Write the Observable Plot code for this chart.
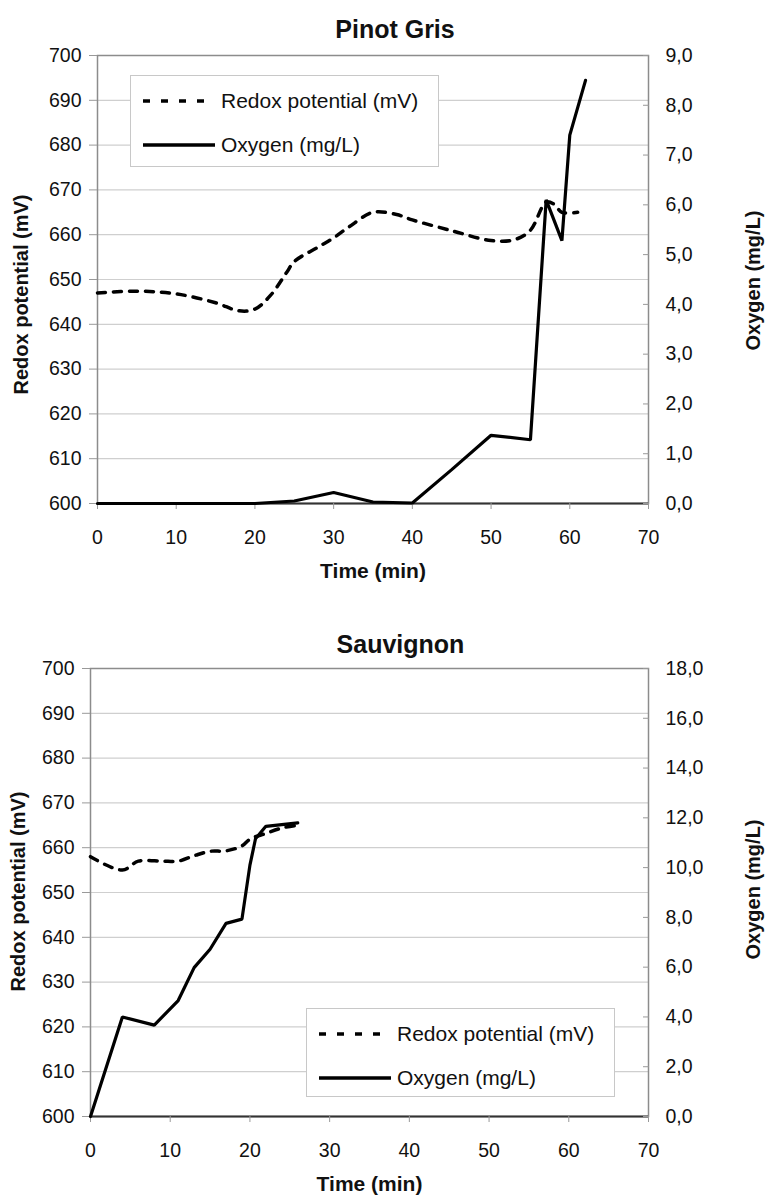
<!DOCTYPE html>
<html><head><meta charset="utf-8">
<script src="https://cdn.jsdelivr.net/npm/d3@7"></script>
<script src="https://cdn.jsdelivr.net/npm/@observablehq/plot@0.6"></script>
<style>
body{margin:0;background:#fff;font-family:"Liberation Sans",Arial,sans-serif;}
.panel{position:relative;width:781px;overflow:hidden;}
.panel svg{position:absolute;left:0;top:0;}
.legend{position:absolute;background:#fff;border:1px solid #c8c8c8;box-sizing:border-box;font-size:21px;color:#111;}
.legend .row{position:absolute;left:0;display:flex;align-items:center;height:30px;}
.legend svg{position:static;margin-left:12px;margin-right:6px;}
</style></head><body>
<div id="chart"></div>
<script>
// ---- data ----
const timeTicks = [0, 10, 20, 30, 40, 50, 60, 70];
const redoxTicks = [600, 610, 620, 630, 640, 650, 660, 670, 680, 690, 700];
const pgOxyTicks = [0, 1, 2, 3, 4, 5, 6, 7, 8, 9];
const svOxyTicks = [0, 2, 4, 6, 8, 10, 12, 14, 16, 18];

// Pinot Gris
const pgRedoxTime = [0, 5, 10, 15, 18, 20, 22, 24, 25, 28, 30, 32, 35, 38, 40, 45, 50, 53, 55, 57, 58, 59, 61];
const pgRedox     = [647, 647.4, 646.8, 644.8, 643, 643.4, 646.5, 651.5, 654, 657.2, 659.3, 661.8, 665, 664.5, 663.3, 660.9, 658.7, 658.9, 661, 667.3, 666.8, 665, 665];
const pgOxyTime = [0, 5, 10, 15, 20, 25, 30, 35, 40, 45, 50, 55, 57, 59, 60, 62];
const pgOxy     = [0, 0, 0, 0, 0, 0.05, 0.22, 0.03, 0.01, 0.68, 1.37, 1.28, 6.1, 5.28, 7.4, 8.5];

// Sauvignon
const svRedoxTime = [0, 4, 6, 9, 11, 13, 15, 17, 19, 20, 22, 24, 26];
const svRedox     = [658, 655, 657, 657, 657, 658.2, 659.2, 659.3, 660.4, 661.9, 663.2, 664.4, 665];
const svOxyTime = [0, 4, 8, 11, 13, 15, 17, 19, 20, 20.7, 22, 26];
const svOxy     = [0, 4.0, 3.67, 4.66, 5.98, 6.72, 7.76, 7.93, 10.1, 11.16, 11.66, 11.8];

const legendLabels = ["Redox potential (mV)", "Oxygen (mg/L)"];
const FONT = '"Liberation Sans", Arial, sans-serif';
const comma = d => d.toFixed(1).replace(".", ",");

function makePanel(cfg) {
  const panel = document.createElement("div");
  panel.className = "panel";
  panel.style.height = cfg.height + "px";
  const common = {
    width: 781, height: cfg.height,
    marginLeft: cfg.ml, marginRight: 133, marginTop: 55, marginBottom: cfg.height - 55 - 448,
    style: {fontFamily: FONT, fontSize: "19.5px", color: "#111", background: "transparent", overflow: "visible"}
  };
  const redoxData = cfg.redoxT.map((t, i) => ({t, v: cfg.redoxV[i]}));
  const oxyData = cfg.oxyT.map((t, i) => ({t, v: cfg.oxyV[i]}));

  const p1 = Plot.plot({
    ...common,
    x: {domain: [0, 70], axis: null},
    y: {domain: [600, 700], axis: null},
    marks: [
      Plot.gridY(redoxTicks, {stroke: "#cfcfcf", strokeOpacity: 1, strokeWidth: 1.2}),
      Plot.frame({stroke: "#8c8c8c", strokeWidth: 1.5}),
      Plot.ruleY([600], {stroke: "#333", strokeWidth: 2}),
      Plot.axisY({ticks: redoxTicks, anchor: "left", tickSize: 8, text: null, label: null, stroke: "#999"}),
      Plot.axisY({ticks: redoxTicks, anchor: "left", tickSize: 0, tickPadding: 16, label: null, fill: "#111", tickFormat: d => String(d)}),
      Plot.axisX({ticks: timeTicks, anchor: "bottom", tickSize: 6, text: null, label: null, stroke: "#999"}),
      Plot.axisX({ticks: timeTicks, anchor: "bottom", tickSize: 0, tickPadding: 27, label: null, fill: "#111", tickFormat: d => String(d)}),
      Plot.line(redoxData, {x: "t", y: "v", curve: "catmull-rom", stroke: "#000", strokeWidth: 3.5, strokeDasharray: "8,8"}),
      Plot.text([cfg.title], {text: d => d, frameAnchor: "top", dx: cfg.titleDx, dy: cfg.titleDy, fontSize: 25, fontWeight: "bold", fill: "#111"}),
      Plot.text(["Redox potential (mV)"], {text: d => d, frameAnchor: "left", textAnchor: "middle", rotate: -90, dx: cfg.leftX - cfg.ml, dy: cfg.leftDy, fontSize: 20, fontWeight: "bold", fill: "#111"}),
      Plot.text(["Time (min)"], {text: d => d, frameAnchor: "bottom", dy: 74, fontSize: 21, fontWeight: "bold", fill: "#111"})
    ]
  });
  const p2 = Plot.plot({
    ...common,
    x: {domain: [0, 70], axis: null},
    y: {domain: [0, cfg.oxyMax], axis: null},
    marks: [
      Plot.axisY({ticks: cfg.oxyTicks, anchor: "right", tickSize: 6, text: null, label: null, stroke: "#999", dx: -6}),
      Plot.axisY({ticks: cfg.oxyTicks, anchor: "right", tickSize: 0, tickPadding: 17, label: null, fill: "#111", tickFormat: comma}),
      Plot.line(oxyData, {x: "t", y: "v", stroke: "#000", strokeWidth: 3.2, strokeLinejoin: "miter"}),
      Plot.text(["Oxygen (mg/L)"], {text: d => d, frameAnchor: "right", textAnchor: "middle", rotate: -90, dx: 105, dy: cfg.rightDy, fontSize: 20, fontWeight: "bold", fill: "#111"})
    ]
  });
  panel.appendChild(p1);
  panel.appendChild(p2);

  const lg = document.createElement("div");
  lg.className = "legend";
  Object.assign(lg.style, {left: cfg.lgX + "px", top: cfg.lgY + "px", width: "309px", height: cfg.lgH + "px"});
  const rows = [
    {label: legendLabels[0], dash: "7,11", y: 10},
    {label: legendLabels[1], dash: null, y: 54}
  ];
  rows.forEach(r => {
    const row = document.createElement("div");
    row.className = "row";
    row.style.top = r.y + "px";
    row.innerHTML = `<svg width="72" height="10"><line x1="0" x2="72" y1="5" y2="5" stroke="#000" stroke-width="3.5" ${r.dash ? `stroke-dasharray="${r.dash}"` : ""}/></svg><span>${r.label}</span>`;
    lg.appendChild(row);
  });
  panel.appendChild(lg);
  return panel;
}

const root = document.getElementById("chart");
root.appendChild(makePanel({
  height: 613, ml: 97, title: "Pinot Gris", titleDx: 22, titleDy: -35, leftX: 21, leftDy: 15, rightDy: 1,
  redoxT: pgRedoxTime, redoxV: pgRedox, oxyT: pgOxyTime, oxyV: pgOxy, oxyMax: 9, oxyTicks: pgOxyTicks,
  lgX: 130, lgY: 75, lgH: 92
}));
root.appendChild(makePanel({
  height: 589, ml: 90, title: "Sauvignon", titleDx: 31, titleDy: -33, leftX: 18, leftDy: -1, rightDy: -3,
  redoxT: svRedoxTime, redoxV: svRedox, oxyT: svOxyTime, oxyV: svOxy, oxyMax: 18, oxyTicks: svOxyTicks,
  lgX: 306, lgY: 395, lgH: 89
}));
</script>
</body></html>
